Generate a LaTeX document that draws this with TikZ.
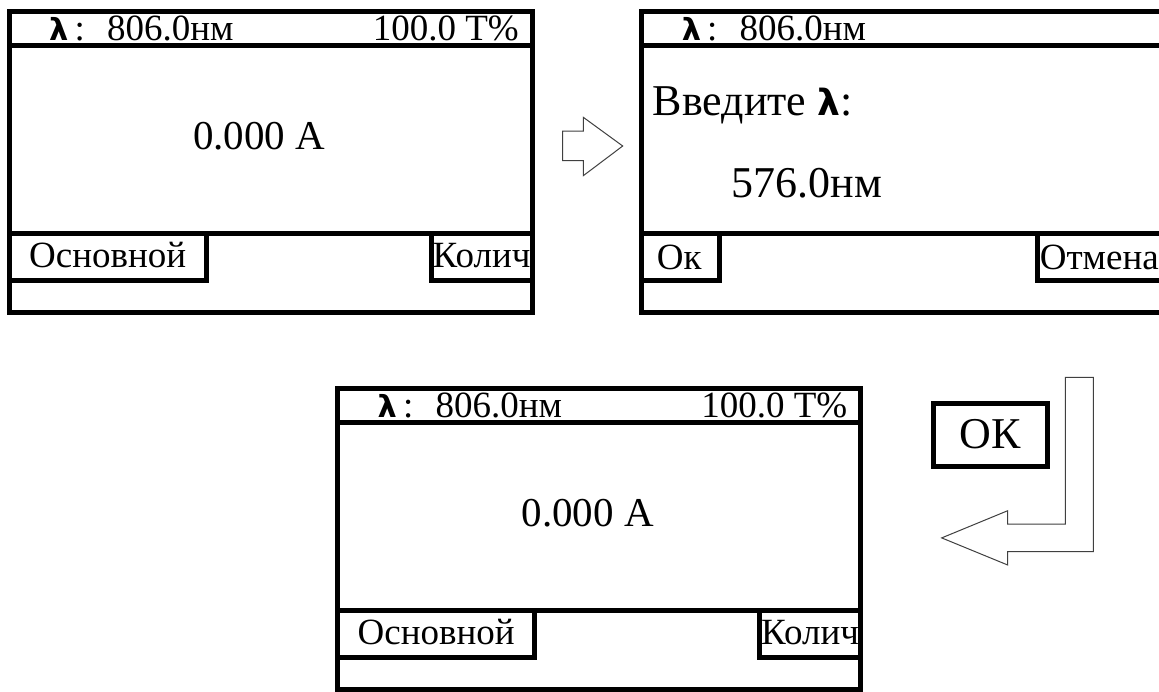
\documentclass[tikz,border=0pt]{standalone}
\usepackage{fontspec}
\setmainfont{Liberation Serif}
\newfontfamily\lamfont[Scale=0.82]{DejaVu Sans}
\newcommand\lam{{\lamfont\bfseries λ}}
\usetikzlibrary{positioning,calc}

\begin{document}
\begin{tikzpicture}[
  x=1pt, y=-1pt,
  frame/.style={draw, line width=5pt, inner sep=0pt, outer sep=0pt, anchor=north west,
                minimum width=523pt, minimum height=301pt},
  btn/.style={draw, line width=5pt, inner sep=0pt, outer sep=0pt, anchor=north west,
              minimum height=47.5pt},
  rule/.style={line width=5pt},
  hdr/.style={font=\fontsize{37}{40}\selectfont, inner sep=0pt, anchor=base west},
  big/.style={font=\fontsize{41}{46}\selectfont, inner sep=0pt, anchor=base west},
  entry/.style={font=\fontsize{44}{50}\selectfont, inner sep=0pt, anchor=base west},
  key/.style={font=\fontsize{37}{40}\selectfont, inner sep=0pt, anchor=base west},
  hollow/.style={draw=black!75, line width=1pt, fill=white, line join=miter},
]
\path[fill=white, use as bounding box] (0,0) rectangle (1159,691);
\def\hy{34.5pt}   % header rule below frame top
\def\by{222pt}    % button row below frame top

% ================= SCREEN 1 : MEASUREMENT =================
\node[frame] (s1) at (9,11) {};
\draw[rule] ([yshift=-\hy]s1.north west) -- ([yshift=-\hy]s1.north east);
\draw[rule] ([yshift=-\by]s1.north west) -- ([yshift=-\by]s1.north east);
\node[btn, minimum width=197pt] (s1l) at ([yshift=-\by]s1.north west) {};
\node[btn, minimum width=101pt, anchor=north east] (s1r) at ([yshift=-\by]s1.north east) {};
\node[hdr] (s1wl) at ([xshift=40pt,yshift=-29.5pt]s1.north west) {\lam\,:\hspace{0.6em}806.0нм};
\node[hdr, anchor=base east] (s1tr) at ([xshift=-13pt,yshift=-29.5pt]s1.north east) {100.0 T\%};
\node[big] (s1abs) at ([xshift=184pt,yshift=-138.5pt]s1.north west) {0.000 A};
\node[key] (s1k1) at ([xshift=20pt,yshift=-34.5pt]s1l.north west) {Основной};
\node[key] (s1k2) at ([xshift=1.5pt,yshift=-34.5pt]s1r.north west) {Колич};

% ================= SCREEN 2 : ENTER WAVELENGTH =================
\node[frame] (s2) at (641.6,11) {};
\draw[rule] ([yshift=-\hy]s2.north west) -- ([yshift=-\hy]s2.north east);
\draw[rule] ([yshift=-\by]s2.north west) -- ([yshift=-\by]s2.north east);
\node[btn, minimum width=78.3pt] (s2l) at ([yshift=-\by]s2.north west) {};
\node[btn, minimum width=127pt, anchor=north east] (s2r) at ([yshift=-\by]s2.north east) {};
\node[hdr] (s2wl) at ([xshift=40pt,yshift=-29.5pt]s2.north west) {\lam\,:\hspace{0.6em}806.0нм};
\node[entry] (s2ask) at ([xshift=11pt,yshift=-104pt]s2.north west) {Введите \lam:};
\node[entry] (s2val) at ([xshift=90pt,yshift=-186pt]s2.north west) {576.0нм};
\node[key] (s2k1) at ([xshift=15pt,yshift=-36pt]s2l.north west) {Ок};
\node[key] (s2k2) at ([xshift=2pt,yshift=-36pt]s2r.north west) {Отмена};

% ================= SCREEN 3 : RESULT =================
\node[frame] (s3) at (337.5,388) {};
\draw[rule] ([yshift=-\hy]s3.north west) -- ([yshift=-\hy]s3.north east);
\draw[rule] ([yshift=-\by]s3.north west) -- ([yshift=-\by]s3.north east);
\node[btn, minimum width=197pt] (s3l) at ([yshift=-\by]s3.north west) {};
\node[btn, minimum width=101pt, anchor=north east] (s3r) at ([yshift=-\by]s3.north east) {};
\node[hdr] (s3wl) at ([xshift=40pt,yshift=-29.5pt]s3.north west) {\lam\,:\hspace{0.6em}806.0нм};
\node[hdr, anchor=base east] (s3tr) at ([xshift=-13pt,yshift=-29.5pt]s3.north east) {100.0 T\%};
\node[big] (s3abs) at ([xshift=184pt,yshift=-138.5pt]s3.north west) {0.000 A};
\node[key] (s3k1) at ([xshift=20pt,yshift=-34.5pt]s3l.north west) {Основной};
\node[key] (s3k2) at ([xshift=1.5pt,yshift=-34.5pt]s3r.north west) {Колич};

% ================= OK key =================
\node[draw, line width=5pt, minimum width=114pt, minimum height=63pt, inner sep=0pt,
      font=\fontsize{44}{50}\selectfont] (okkey) at (990.5,434.5) {ОК};

% hollow arrows
\draw[hollow] (562.7,131) -- (583.3,131) -- (583.3,117.3) -- (622.7,146)
   -- (583.3,175.7) -- (583.3,160.7) -- (562.7,160.7) -- cycle;
\draw[hollow] (1065.3,377.3) -- (1093.3,377.3) -- (1093.3,551.7) -- (1007.7,551.7)
   -- (1007.7,565) -- (941.7,537.9) -- (1007.7,510.7) -- (1007.7,524)
   -- (1065.3,524) -- cycle;
\end{tikzpicture}
\end{document}
